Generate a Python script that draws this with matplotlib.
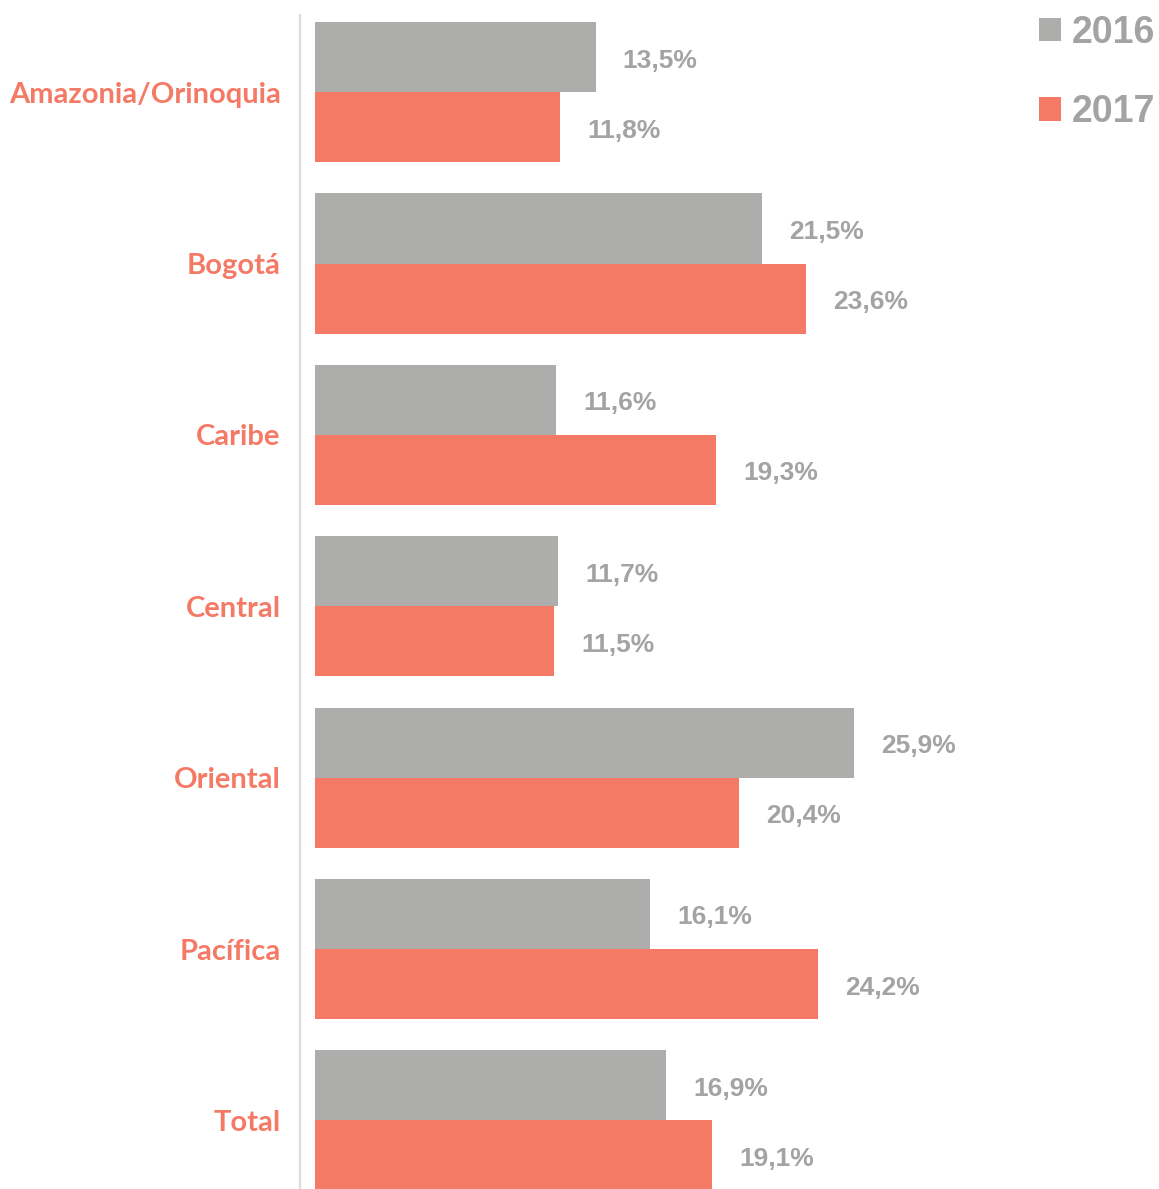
import matplotlib.pyplot as plt
import numpy as np

# regional shares, 2016 vs 2017 (%)
regions = ["Amazonia/Orinoquia", "Bogotá", "Caribe", "Central", "Oriental", "Pacífica", "Total"]
values_2016 = [13.5, 21.5, 11.6, 11.7, 25.9, 16.1, 16.9]
values_2017 = [11.8, 23.6, 19.3, 11.5, 20.4, 24.2, 19.1]
years = ["2016", "2017"]

gray = "#ADADAB"
salmon = "#F47A66"
label_gray = "#A3A3A3"
narrow = ["Liberation Sans", "DejaVu Sans"]

fig = plt.figure(figsize=(11.59, 11.89), dpi=100)
ax = fig.add_axes([300 / 1159, 0.0, 859 / 1159, (1189 - 15) / 1189])

y = np.arange(len(regions))
h = 0.409
b1 = ax.barh(y - h / 2, values_2016, height=h, color=gray, label=years[0])
b2 = ax.barh(y + h / 2, values_2017, height=h, color=salmon, label=years[1])

""" value labels next to each bar """
for bars, vals in ((b1, values_2016), (b2, values_2017)):
    for rect, v in zip(bars, vals):
        ax.text(v + 1.3, rect.get_y() + rect.get_height() / 2 + 0.02,
                "{:.1f}%".format(v).replace(".", ","),
                ha="left", va="center", fontsize=19, fontweight="bold",
                color=label_gray, family=narrow)

ax.set_xlim(-0.72, 40.58)
ax.set_ylim(6.40, -0.45)
ax.set_xticks([])
ax.set_yticks(y)
ax.set_yticklabels(regions, fontsize=21, fontweight="bold", color=salmon,
                   family=["Lato", "DejaVu Sans"])
ax.tick_params(axis="y", length=0, pad=14)

for side in ("top", "right", "bottom"):
    ax.spines[side].set_visible(False)
ax.spines["left"].set_color("#DCDCDC")
ax.spines["left"].set_linewidth(1.6)

leg = ax.legend(handles=[b1, b2], loc="upper right", bbox_to_anchor=(1.013, 1.013),
                frameon=False, handlelength=0.6, handleheight=0.6,
                handletextpad=0.28, labelspacing=1.16, borderaxespad=0.0,
                prop={"family": narrow, "weight": "bold", "size": 27})
for t in leg.get_texts():
    t.set_color(label_gray)

fig.savefig("out.png", dpi=100, facecolor="white")
